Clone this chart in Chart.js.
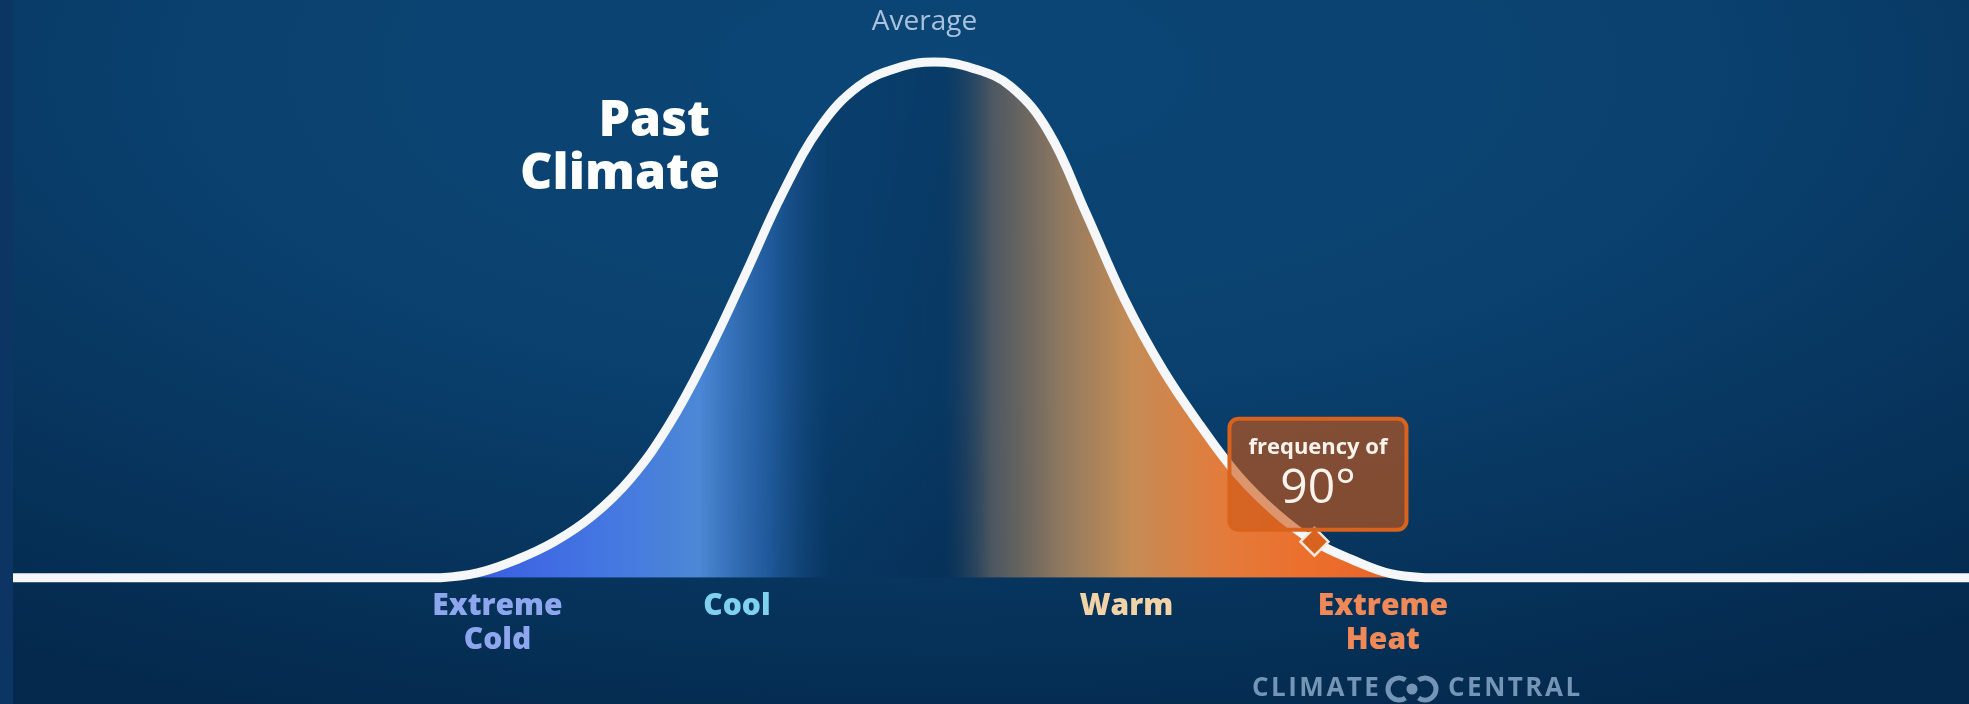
<!DOCTYPE html>
<html>
<head>
<meta charset="utf-8">
<script src="https://cdn.jsdelivr.net/npm/chart.js@4"></script>
<style>
html, body { margin: 0; padding: 0; }
body { width: 1969px; height: 704px; background: #0c3563; overflow: hidden; position: relative; }
#wrap {
    position: absolute; left: 13px; top: 0; width: 1956px; height: 704px;
    background: radial-gradient(ellipse 85% 100% at 48% 10%, #0b4676 0%, #0a416f 45%, #07355e 72%, #04294c 100%);
}
canvas { display: block; }
</style>
</head>
<body>
<div id="wrap"><canvas id="myChart" width="1956" height="704"></canvas></div>
<script>
// temperature (deg F, hidden axis) and relative frequency (% of peak)
var temps = [21.5, 42, 44, 46, 48, 50, 52, 54, 56, 58, 60, 62, 64, 66, 68, 70,
             72, 74, 76, 78, 80, 82, 84, 86, 88, 90, 92, 94, 96, 98, 124.45];
var freq  = [0, 0, 0, 1.0, 3.5, 7.0, 12.0, 19.2, 29.5, 43.0, 58.5, 74.5, 87.5, 95.3, 98.8, 100,
             98.8, 95.3, 86.5, 70.5, 54.0, 40.5, 29.5, 19.8, 12.5, 7.0, 3.5, 0.8, 0, 0, 0];

var tickTemps  = [47, 59.6, 80.1, 93.6];
var tickLabels = [["Extreme", "Cold"], "Cool", "Warm", ["Extreme", "Heat"]];
var tickColors = ["#8ea6ee", "#7ed2ee", "#f2d3a8", "#f08958"];

var markerTemp = [90];
var markerFreq = [7];
var markerText = ["frequency of", "90°"];

var peakLabel  = "Average";
var titleLines = ["Past", "Climate"];

Chart.defaults.font.family = "'Open Sans', sans-serif";

function fillGradient(context) {
    var chart = context.chart;
    var ca = chart.chartArea;
    if (!ca) return "transparent";
    var xs = chart.scales.x;
    var g = chart.ctx.createLinearGradient(ca.left, 0, ca.right, 0);
    var stops = [
        [45.5, "rgba(58,92,226,1)"],
        [52.4, "rgba(68,118,226,1)"],
        [57.6, "rgba(76,136,214,1)"],
        [61.3, "rgba(38,98,168,0.8)"],
        [64.5, "rgba(8,56,100,0.45)"],
        [70.5, "rgba(5,44,82,0.4)"],
        [73.0, "rgba(84,90,96,0.9)"],
        [76.6, "rgba(142,120,96,1)"],
        [80.3, "rgba(196,140,86,1)"],
        [85.0, "rgba(226,124,60,1)"],
        [89.2, "rgba(236,112,45,1)"],
        [94.5, "rgba(232,100,40,1)"]
    ];
    stops.forEach(function (s) {
        var f = (xs.getPixelForValue(s[0]) - ca.left) / ca.width;
        g.addColorStop(Math.min(1, Math.max(0, f)), s[1]);
    });
    return g;
}

var textPlugin = {
    id: "texts",
    afterDatasetsDraw: function (chart) {
        var ctx = chart.ctx;
        var xs = chart.scales.x, ys = chart.scales.y;
        ctx.save();

        // "Average" above the peak
        var iPeak = freq.indexOf(Math.max.apply(null, freq));
        ctx.fillStyle = "#a9c1dc";
        ctx.font = "28px 'Open Sans'";
        ctx.textAlign = "center";
        ctx.textBaseline = "middle";
        ctx.fillText(peakLabel, xs.getPixelForValue(temps[iPeak]) - 10, 22);

        // Past Climate
        ctx.fillStyle = "#ffffff";
        ctx.font = "800 50px 'Open Sans'";
        ctx.textAlign = "right";
        ctx.fillText(titleLines[0], 697, 122);
        ctx.fillText(titleLines[1], 707, 175);

        // callout box above the marker
        var mx = xs.getPixelForValue(markerTemp[0]);
        var my = ys.getPixelForValue(markerFreq[0]);
        var bw = 177, bh = 111;
        var bx = mx + 3.5 - bw / 2, by = my - 12 - bh;
        ctx.beginPath();
        ctx.roundRect(bx, by, bw, bh, 9);
        ctx.fillStyle = "rgba(205,88,22,0.62)";
        ctx.fill();
        ctx.lineWidth = 4;
        ctx.strokeStyle = "#d9631d";
        ctx.stroke();
        ctx.fillStyle = "#fbf3ec";
        ctx.textAlign = "center";
        ctx.font = "bold 22px 'Open Sans'";
        ctx.fillText(markerText[0], bx + bw / 2, by + 29);
        ctx.font = "48px 'Open Sans'";
        ctx.fillText(markerText[1], bx + bw / 2, by + 71);

        // logo
        var ly = 689;
        ctx.fillStyle = "#7595b6";
        ctx.strokeStyle = "#7595b6";
        ctx.font = "bold 26px 'Open Sans'";
        ctx.textAlign = "left";
        ctx.letterSpacing = "2.5px";
        ctx.fillText("CLIMATE", 1239, ly);
        ctx.fillText("CENTRAL", 1435, ly);
        ctx.letterSpacing = "0px";
        ctx.lineWidth = 5;
        ctx.beginPath();
        ctx.arc(1386, ly, 11, Math.PI * 0.3, Math.PI * 1.7, false);
        ctx.stroke();
        ctx.beginPath();
        ctx.arc(1412, ly, 11, Math.PI * 1.3, Math.PI * 0.7, false);
        ctx.stroke();
        ctx.beginPath();
        ctx.arc(1399, ly, 5.5, 0, Math.PI * 2);
        ctx.fill();

        ctx.restore();
    }
};

var curvePoints = temps.map(function (t, i) { return { x: t, y: freq[i] }; });
var markerPoints = markerTemp.map(function (t, i) { return { x: t, y: markerFreq[i] }; });

var ctx = document.getElementById("myChart").getContext("2d");
var myChart = new Chart(ctx, {
    type: "line",
    data: {
        datasets: [{
            label: "frequency of 90°",
            data: markerPoints,
            showLine: false,
            pointStyle: "rectRot",
            pointRadius: 14,
            backgroundColor: "#d9621f",
            borderColor: "#f6e8dc",
            borderWidth: 2.5
        }, {
            label: "Past Climate",
            data: curvePoints,
            borderColor: "#f5f7fa",
            borderWidth: 9,
            pointRadius: 0,
            fill: "origin",
            backgroundColor: fillGradient,
            tension: 0.4,
            clip: false
        }]
    },
    options: {
        responsive: false,
        animation: false,
        layout: { autoPadding: false, padding: { top: 62, bottom: 35, left: 0, right: 0 } },
        plugins: { legend: { display: false }, tooltip: { enabled: false } },
        scales: {
            x: {
                type: "linear",
                min: 21.5,
                max: 124.45,
                grid: { display: false, drawTicks: false },
                border: { display: false },
                afterBuildTicks: function (scale) {
                    scale.ticks = tickTemps.map(function (v) { return { value: v }; });
                },
                ticks: {
                    autoSkip: false,
                    maxRotation: 0,
                    padding: 12,
                    font: { weight: 800, size: 30, lineHeight: 1.12 },
                    color: function (c) { return tickColors[c.index]; },
                    callback: function (v, i) { return tickLabels[i]; }
                }
            },
            y: { display: false, min: 0, max: 100 }
        }
    },
    plugins: [textPlugin]
});
</script>
</body>
</html>
